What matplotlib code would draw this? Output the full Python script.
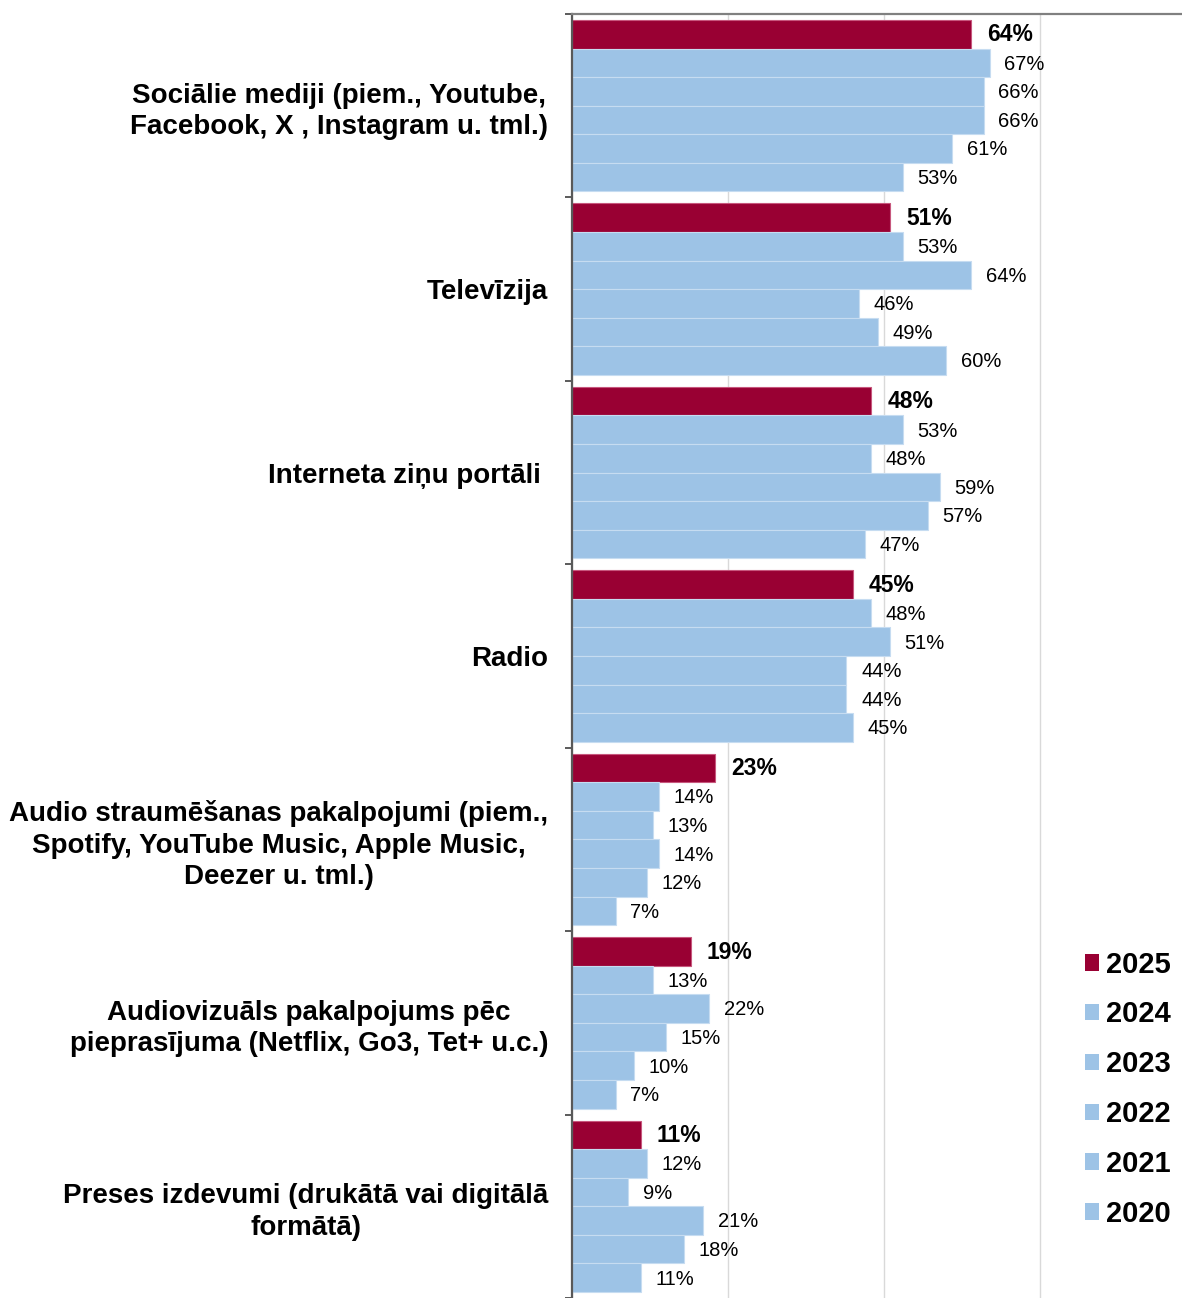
import matplotlib.pyplot as plt
import numpy as np
from matplotlib.patches import Patch

plt.rcParams['font.family'] = ['Liberation Sans', 'DejaVu Sans']

# Media categories (top to bottom) and survey years (top bar to bottom bar)
categories = [
    "Sociālie mediji (piem., Youtube,\nFacebook, X , Instagram u. tml.)",
    "Televīzija",
    "Interneta ziņu portāli ",
    "Radio",
    "Audio straumēšanas pakalpojumi (piem.,\nSpotify, YouTube Music, Apple Music,\nDeezer u. tml.)",
    "Audiovizuāls pakalpojums pēc\npieprasījuma (Netflix, Go3, Tet+ u.c.)",
    "Preses izdevumi (drukātā vai digitālā\nformātā)",
]
years = ["2025", "2024", "2023", "2022", "2021", "2020"]

# Share of respondents (%) per category, one list per year
vals_2025 = [64, 51, 48, 45, 23, 19, 11]
vals_2024 = [67, 53, 53, 48, 14, 13, 12]
vals_2023 = [66, 64, 48, 51, 13, 22, 9]
vals_2022 = [66, 46, 59, 44, 14, 15, 21]
vals_2021 = [61, 49, 57, 44, 12, 10, 18]
vals_2020 = [53, 60, 47, 45, 7, 7, 11]

series = [vals_2025, vals_2024, vals_2023, vals_2022, vals_2021, vals_2020]

RED = "#990033"
BLUE = "#9DC3E6"
colors = [RED] + [BLUE] * 5

fig = plt.figure(figsize=(11.82, 12.98), dpi=100)
ax = fig.add_axes([572 / 1182, 0.0, 610 / 1182, 1 - 14 / 1298])

n = len(years)
group = 0.935
w = group / n
y = np.arange(len(categories))

for j, (vals, col) in enumerate(zip(series, colors)):
    pos = y + (j - (n - 1) / 2) * w
    edge = "#c7577d" if j == 0 else "#c6dcf1"
    ax.barh(pos, vals, height=w, color=col, edgecolor=edge, linewidth=0.8, zorder=2)
    for p, v in zip(pos, vals):
        if j == 0:
            ax.annotate(f"{v}%", (v, p), xytext=(11.5, -0.5), textcoords="offset points",
                        ha="left", va="center", fontsize=16.5, fontweight="bold")
        else:
            ax.annotate(f"{v}%", (v, p), xytext=(10.5, -1), textcoords="offset points",
                        ha="left", va="center", fontsize=14.5)

ax.set_xlim(0, 97.8)
ax.set_ylim(len(categories) - 0.5, -0.5)

# vertical gridlines every 25 %
ax.set_xticks([0, 25, 50, 75])
ax.tick_params(axis="x", length=0, labelbottom=False)
ax.xaxis.grid(True, color="#d9d9d9", linewidth=1.0, zorder=0)
ax.set_axisbelow(True)

# category labels in the middle of each group, tick marks between groups
ax.set_yticks(y)
ax.set_yticklabels(categories, fontsize=20, fontweight="bold", ha="right",
                   multialignment="center", linespacing=1.27)
ax.tick_params(axis="y", which="major", length=0, pad=17)
ax.set_yticks(np.arange(-0.5, len(categories) + 0.5, 1), minor=True)
ax.tick_params(axis="y", which="minor", length=5, width=1.2, color="#404040", direction="out")

for s in ["right", "bottom"]:
    ax.spines[s].set_visible(False)
ax.spines["top"].set_color("#808080")
ax.spines["top"].set_linewidth(1.6)
ax.spines["left"].set_color("#595959")
ax.spines["left"].set_linewidth(1.6)

handles = [Patch(facecolor=c, edgecolor="none", label=yr) for c, yr in zip(colors, years)]
fig.legend(handles=handles, loc="upper left", bbox_to_anchor=(1070 / 1182, 1 - 936 / 1298),
           frameon=False, prop={"weight": "bold", "size": 21},
           handlelength=0.5, handleheight=0.5, handletextpad=0.25, labelspacing=0.75,
           borderpad=0)

fig.savefig("out.png", dpi=100)
